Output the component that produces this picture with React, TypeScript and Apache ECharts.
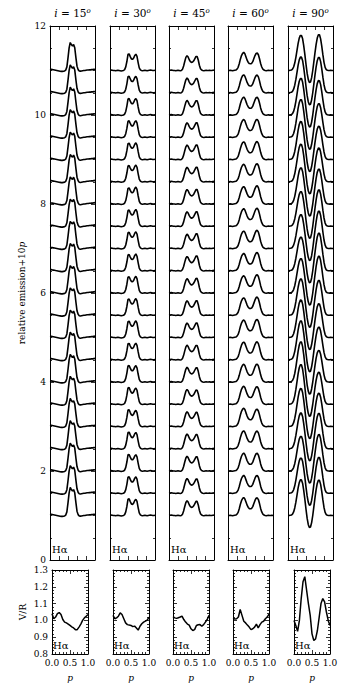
import React, { useEffect, useRef } from "react";
import * as echarts from "echarts";

// ---------- data ----------
const inclinations = ["15", "30", "45", "60", "90"];
const phases = [0, 0.05, 0.1, 0.15, 0.2, 0.25, 0.3, 0.35, 0.4, 0.45, 0.5, 0.55, 0.6, 0.65, 0.7, 0.75, 0.8, 0.85, 0.9, 0.95, 1.0];
const velocityGrid = [0, 0.125, 0.25, 0.375, 0.5, 0.625, 0.75, 0.875, 1, 1.125, 1.25, 1.375, 1.5, 1.625, 1.75, 1.875, 2, 2.125, 2.25, 2.375, 2.5, 2.625, 2.75, 2.875, 3, 3.125, 3.25, 3.375, 3.5, 3.625, 3.75, 3.875, 4, 4.125, 4.25, 4.375, 4.5, 4.625, 4.75, 4.875, 5];

// line excess over the continuum (mean profile) for each inclination
const profile15 = [0.03, 0.025, 0.02, 0.015, 0.01, 0.005, 0.0, -0.005, -0.01, -0.015, -0.02, -0.02, -0.015, -0.01, 0.01, 0.08, 0.28, 0.5, 0.62, 0.58, 0.55, 0.59, 0.52, 0.3, 0.1, 0.02, -0.01, -0.015, -0.01, -0.005, 0.0, 0.0, 0.005, 0.01, 0.01, 0.015, 0.015, 0.02, 0.02, 0.025, 0.03];
const profile30 = [0.01, 0.01, 0.005, 0.0, 0.0, -0.005, 0.0, 0.005, 0.0, -0.005, -0.01, -0.005, 0.0, 0.02, 0.08, 0.2, 0.36, 0.37, 0.31, 0.26, 0.25, 0.28, 0.34, 0.37, 0.32, 0.18, 0.06, 0.015, 0.0, -0.005, 0.0, 0.005, 0.0, -0.005, 0.0, 0.005, 0.01, 0.005, 0.0, 0.0, 0.005];
const profile45 = [0.0, 0.005, 0.01, 0.005, 0.0, 0.0, -0.005, 0.0, 0.005, 0.0, -0.005, 0.0, 0.03, 0.1, 0.2, 0.29, 0.33, 0.3, 0.24, 0.2, 0.18, 0.19, 0.22, 0.27, 0.32, 0.32, 0.24, 0.12, 0.04, 0.01, 0.0, -0.005, 0.0, 0.005, 0.0, 0.0, 0.005, 0.0, 0.0, 0.005, 0.01];
const profile60 = [0.0, 0.0, 0.005, 0.0, -0.005, 0.0, 0.005, 0.01, 0.03, 0.07, 0.15, 0.25, 0.33, 0.38, 0.4, 0.37, 0.3, 0.23, 0.18, 0.155, 0.15, 0.16, 0.2, 0.27, 0.34, 0.39, 0.4, 0.36, 0.27, 0.16, 0.08, 0.03, 0.01, 0.0, -0.005, 0.0, 0.005, 0.0, 0.0, 0.005, 0.0];
const profile90 = [0.0, 0.0, 0.005, 0.01, 0.03, 0.08, 0.17, 0.3, 0.46, 0.62, 0.74, 0.8, 0.8, 0.72, 0.56, 0.36, 0.14, -0.06, -0.2, -0.27, -0.26, -0.16, 0.0, 0.2, 0.4, 0.58, 0.72, 0.79, 0.79, 0.7, 0.54, 0.35, 0.18, 0.07, 0.02, 0.005, 0.0, 0.0, 0.005, 0.0, 0.0];

// line centre and half peak separation (velocity units)
const lineCentres = [2.45, 2.45, 2.5, 2.5, 2.45];
const halfSeparations = [0.25, 0.43, 0.6, 0.74, 0.97];

// V/R ratio versus phase p
const vr15 = [1.04, 1.01, 1.02, 1.04, 1.047, 1.035, 1.005, 0.99, 0.985, 0.978, 0.97, 0.962, 0.955, 0.945, 0.945, 0.96, 0.978, 1.0, 1.015, 1.025, 1.035];
const vr30 = [1.03, 1.01, 1.015, 1.025, 1.045, 1.035, 1.01, 0.985, 0.975, 0.972, 0.97, 0.963, 0.966, 0.955, 0.942, 0.965, 0.98, 0.99, 0.996, 1.002, 1.02];
const vr45 = [1.022, 1.015, 1.012, 1.016, 1.02, 1.025, 1.005, 0.99, 0.978, 0.972, 0.95, 0.94, 0.945, 0.97, 0.974, 0.975, 0.965, 0.975, 0.99, 1.005, 1.03];
const vr60 = [1.012, 1.008, 1.01, 1.02, 1.065, 1.03, 0.995, 0.985, 0.972, 0.96, 0.945, 0.95, 0.96, 0.978, 0.955, 0.975, 0.99, 0.995, 1.01, 1.02, 1.037];
const vr90 = [1.0, 0.97, 0.935, 1.0, 1.13, 1.23, 1.26, 1.18, 1.1, 1.03, 0.92, 0.88, 0.89, 0.94, 1.02, 1.1, 1.13, 1.11, 1.05, 1.0, 0.97];

const profiles = [profile15, profile30, profile45, profile60, profile90];
const vrSeries = [vr15, vr30, vr45, vr60, vr90];

const topTicks = [0, 2, 4, 6, 8, 10, 12];
const vrTicks = [0.8, 0.9, 1.0, 1.1, 1.2, 1.3];
const pTicks = [0.0, 0.5, 1.0];

// ---------- layout ----------
const TOP_LEFTS = [50, 110, 169, 228, 288];
const TOP_W = 45;
const TOP_Y = 26;
const TOP_H = 534;
const BOT_LEFTS = [52, 113, 173, 233, 294];
const BOT_W = 36;
const BOT_Y = 570;
const BOT_H = 84;
const FONT = "DejaVu Serif";

function buildOption() {
  const grid: any[] = [];
  const xAxis: any[] = [];
  const yAxis: any[] = [];
  const series: any[] = [];
  const graphic: any[] = [];

  const axisBase = {
    type: "value",
    axisLine: { show: true, onZero: false, lineStyle: { color: "#000", width: 1 } },
    axisTick: { show: true, inside: true, length: 4, lineStyle: { color: "#000", width: 0.8 } },
    minorTick: { show: true, length: 2, lineStyle: { color: "#000", width: 0.8 } },
    splitLine: { show: false },
    minorSplitLine: { show: false },
  };

  const addAxes = (g: number, xCfg: any, yCfg: any, showY: boolean, showX: boolean, yFmt: (v: number) => string, xFmt: (v: number) => string) => {
    const xi = xAxis.length;
    xAxis.push({ ...axisBase, ...xCfg, gridIndex: g, position: "bottom",
      axisLabel: { show: showX, fontFamily: FONT, fontSize: 9, lineHeight: 9, color: "#000", margin: 4, formatter: xFmt } });
    xAxis.push({ ...axisBase, ...xCfg, gridIndex: g, position: "top", axisLabel: { show: false } });
    const yi = yAxis.length;
    yAxis.push({ ...axisBase, ...yCfg, gridIndex: g, position: "left",
      axisLabel: { show: showY, fontFamily: FONT, fontSize: 9, lineHeight: 6, color: "#000", margin: 4, formatter: yFmt } });
    yAxis.push({ ...axisBase, ...yCfg, gridIndex: g, position: "right", axisLabel: { show: false } });
    return { xi, yi };
  };

  // top panels
  for (let k = 0; k < 5; k++) {
    const g = grid.length;
    grid.push({ left: TOP_LEFTS[k], top: TOP_Y, width: TOP_W, height: TOP_H, containLabel: false });
    const { xi, yi } = addAxes(
      g,
      { min: 0, max: 5, interval: 1, minorTick: { show: false } },
      { min: 0, max: 12, interval: 2, minorTick: { show: true, splitNumber: 4, length: 2, lineStyle: { color: "#000", width: 0.8 } } },
      k === 0,
      false,
      (v: number) => (topTicks.indexOf(v) >= 0 ? String(v) : ""),
      () => ""
    );
    const base = profiles[k];
    const vr = vrSeries[k];
    phases.forEach((p, j) => {
      const data = velocityGrid.map((x, idx) => {
        let w = (x - lineCentres[k]) / halfSeparations[k];
        if (w > 1) w = 1;
        if (w < -1) w = -1;
        const factor = Math.pow(vr[j], -w / 2);
        return [x, 1 + 10 * p + base[idx] * factor];
      });
      series.push({
        type: "line",
        xAxisIndex: xi,
        yAxisIndex: yi,
        data,
        showSymbol: false,
        symbol: "none",
        smooth: false,
        lineStyle: { color: "#000", width: 1.6 },
        silent: true,
      });
    });
    graphic.push({
      type: "text",
      x: TOP_LEFTS[k] + TOP_W / 2,
      y: 13,
      style: {
        text: `{i|i} = ${inclinations[k]}{o|o}`,
        fontFamily: FONT,
        fontSize: 10.5,
        fill: "#000",
        align: "center",
        verticalAlign: "middle",
        rich: {
          i: { fontStyle: "italic", fontFamily: FONT, fontSize: 10.5, fill: "#000" },
          o: { fontStyle: "italic", fontFamily: FONT, fontSize: 7, fill: "#000", verticalAlign: "top" },
        },
      },
    });
    graphic.push({
      type: "text",
      x: TOP_LEFTS[k] + 2,
      y: TOP_Y + TOP_H - 16,
      style: { text: "Hα", fontFamily: FONT, fontSize: 10, fill: "#000" },
    });
  }

  // bottom panels
  for (let k = 0; k < 5; k++) {
    const g = grid.length;
    grid.push({ left: BOT_LEFTS[k], top: BOT_Y, width: BOT_W, height: BOT_H, containLabel: false });
    const { xi, yi } = addAxes(
      g,
      { min: 0, max: 1, interval: 0.5, minorTick: { show: true, splitNumber: 5, length: 2, lineStyle: { color: "#000", width: 0.8 } } },
      { min: 0.8, max: 1.3, interval: 0.1, minorTick: { show: true, splitNumber: 5, length: 2, lineStyle: { color: "#000", width: 0.8 } } },
      k === 0,
      true,
      (v: number) => {
        const t = vrTicks.find((s) => Math.abs(s - v) < 1e-6);
        return t === undefined ? "" : t.toFixed(1);
      },
      (v: number) => {
        const t = pTicks.find((s) => Math.abs(s - v) < 1e-6);
        return t === undefined ? "" : t.toFixed(1);
      }
    );
    series.push({
      type: "line",
      xAxisIndex: xi,
      yAxisIndex: yi,
      data: phases.map((p, j) => [p, vrSeries[k][j]]),
      showSymbol: false,
      symbol: "none",
      lineStyle: { color: "#000", width: 1.5 },
      silent: true,
    });
    graphic.push({
      type: "text",
      x: BOT_LEFTS[k] + 1,
      y: BOT_Y + BOT_H - 14,
      style: { text: "Hα", fontFamily: FONT, fontSize: 10, fill: "#000" },
    });
    graphic.push({
      type: "text",
      x: BOT_LEFTS[k] + BOT_W / 2,
      y: 678,
      style: { text: "p", fontFamily: FONT, fontStyle: "italic", fontSize: 9, fill: "#000", align: "center", verticalAlign: "middle" },
    });
  }

  graphic.push({
    type: "text",
    x: 22,
    y: 293,
    rotation: Math.PI / 2,
    style: {
      text: "relative emission+10{p|p}",
      fontFamily: FONT,
      fontSize: 9,
      fill: "#000",
      align: "center",
      verticalAlign: "middle",
      rich: { p: { fontStyle: "italic", fontFamily: FONT, fontSize: 9, fill: "#000" } },
    },
  });
  graphic.push({
    type: "text",
    x: 23,
    y: 612,
    rotation: Math.PI / 2,
    style: { text: "V/R", fontFamily: FONT, fontSize: 9, fill: "#000", align: "center", verticalAlign: "middle" },
  });

  return {
    animation: false,
    backgroundColor: "#fff",
    grid,
    xAxis,
    yAxis,
    series,
    graphic,
  };
}

export default function App() {
  const ref = useRef<HTMLDivElement>(null);
  useEffect(() => {
    if (!ref.current) return;
    const chart = echarts.init(ref.current, undefined, { renderer: "svg" });
    chart.setOption(buildOption() as any);
    return () => chart.dispose();
  }, []);
  return <div ref={ref} style={{ position: "fixed", left: 0, top: 0, width: 345, height: 696 }} />;
}
